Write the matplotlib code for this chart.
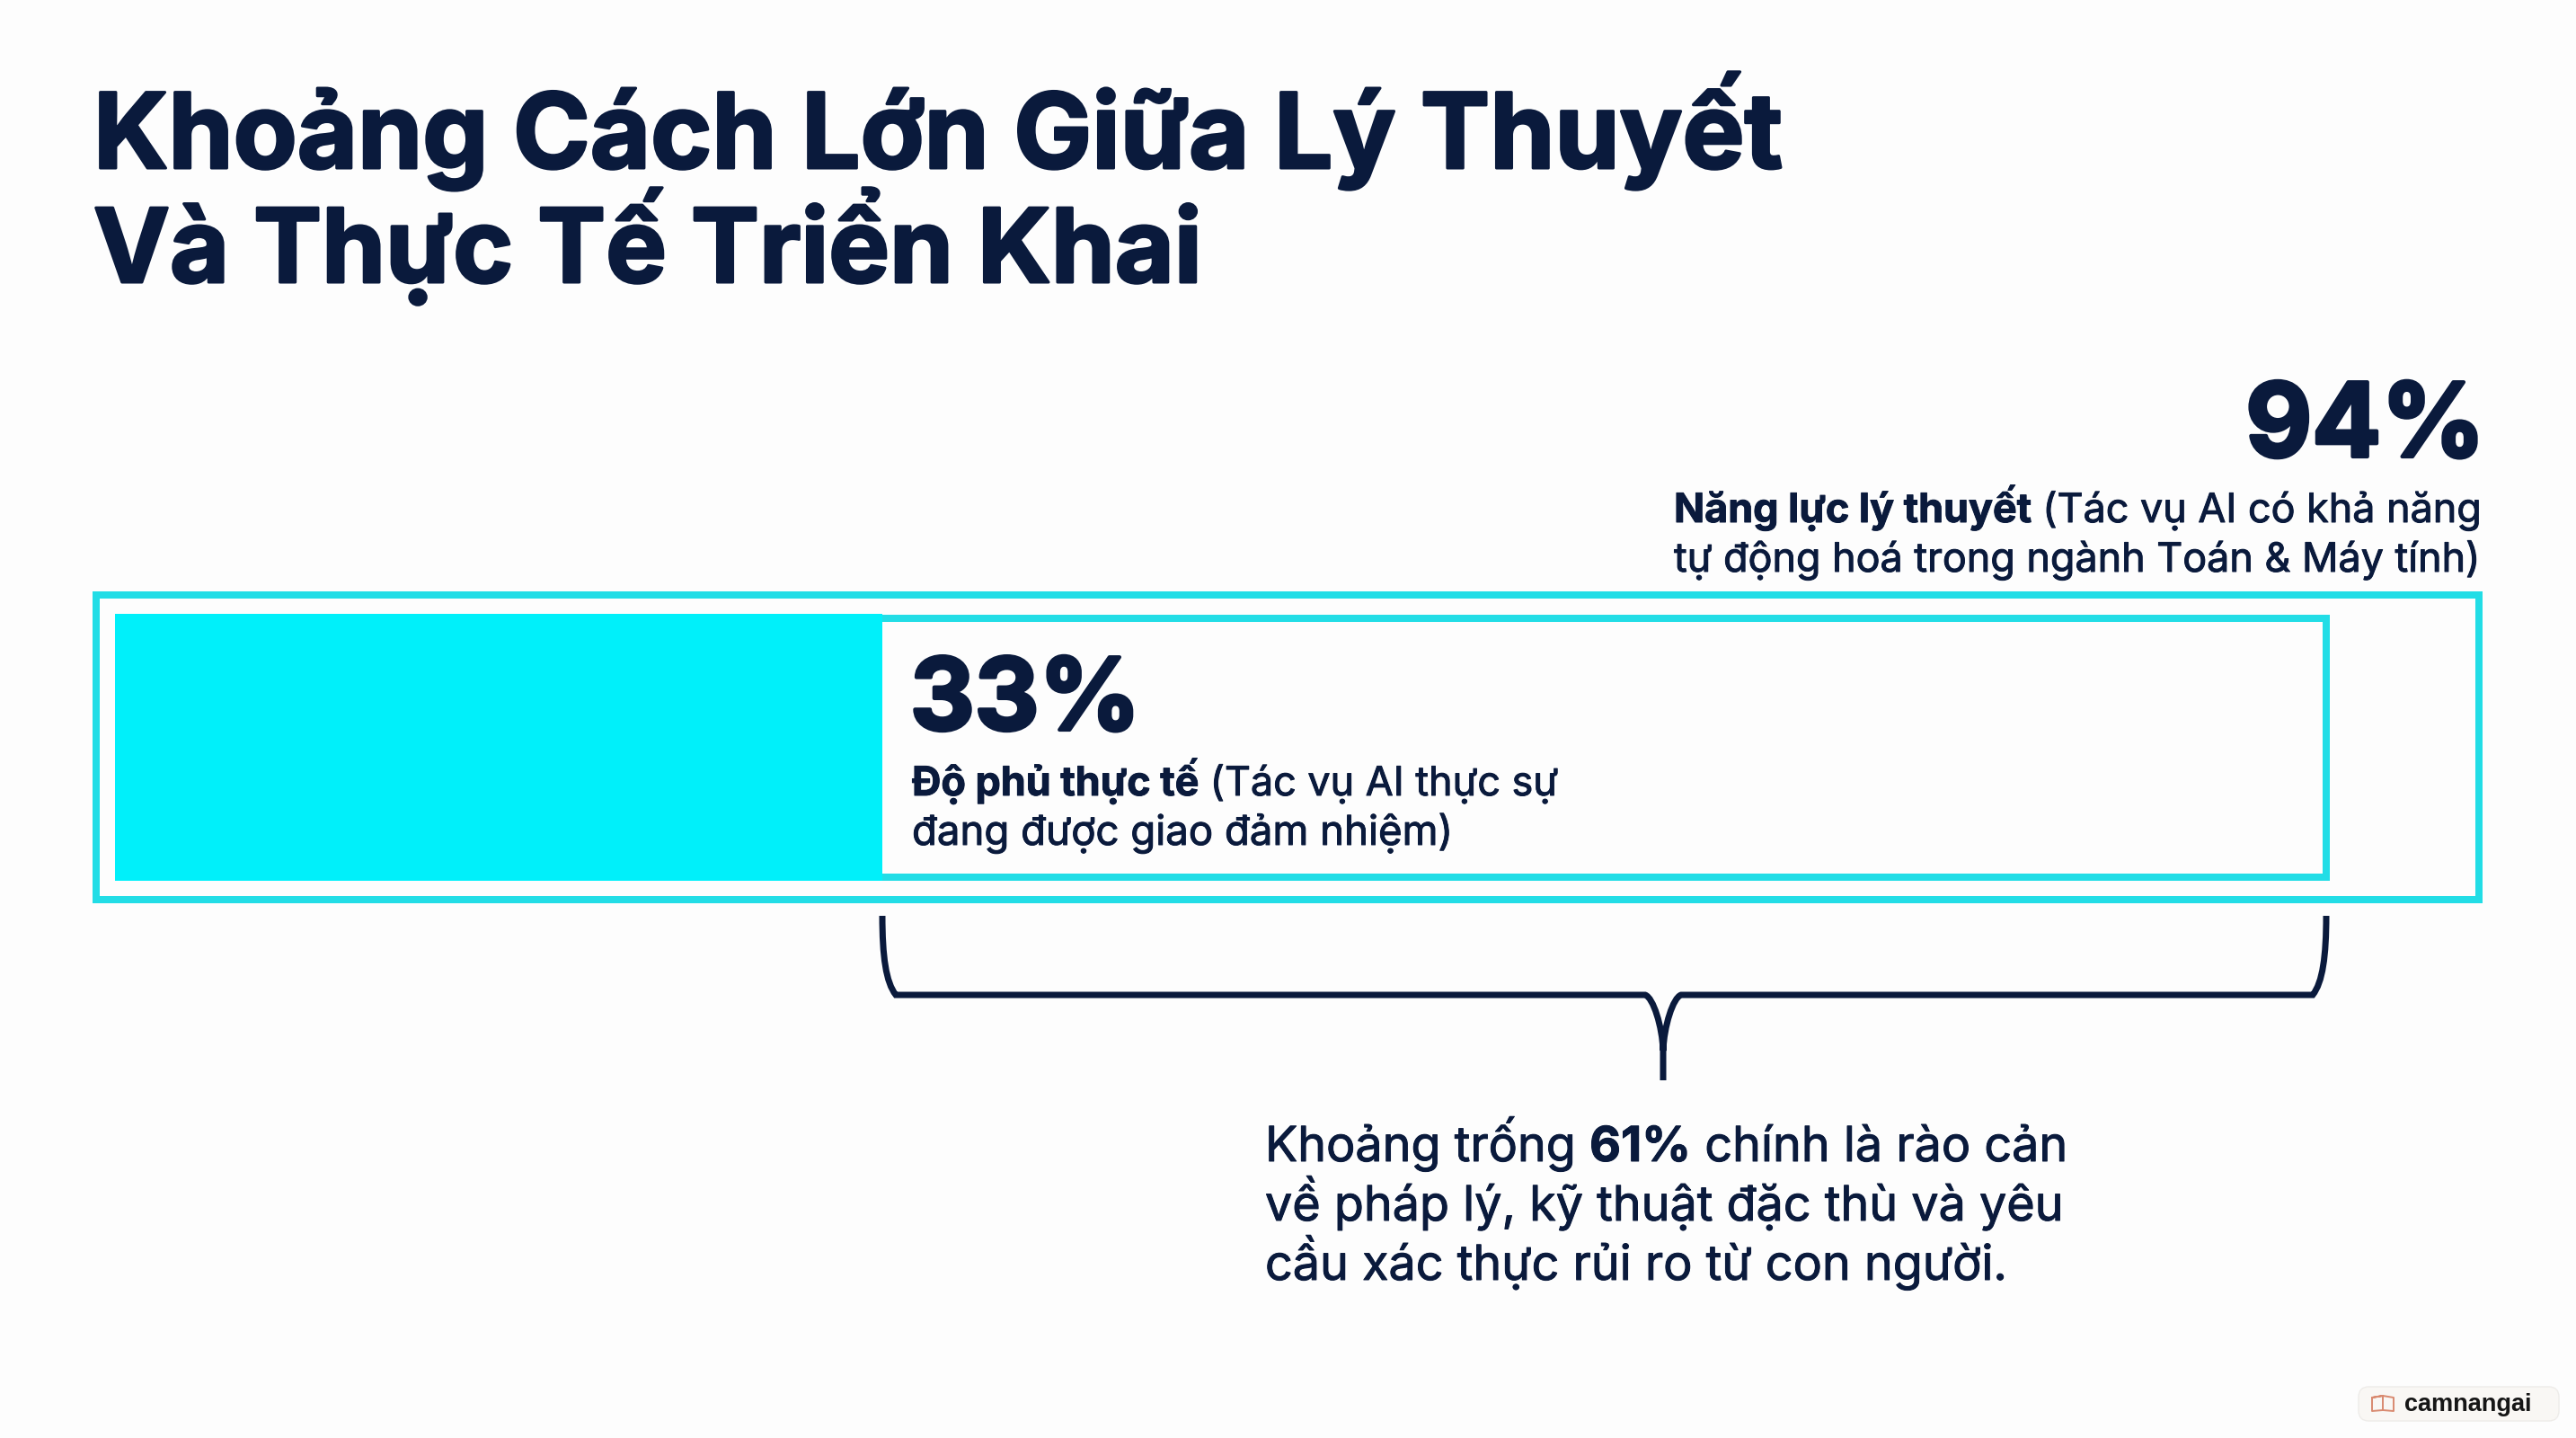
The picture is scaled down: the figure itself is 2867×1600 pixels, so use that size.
import matplotlib
matplotlib.use('Agg')
import matplotlib.pyplot as plt
import matplotlib.patheffects as pe
from matplotlib.patches import PathPatch, FancyBboxPatch
from matplotlib.path import Path

W, H = 2867, 1600
NAVY = '#0A1A3C'
CYAN = '#00F0FA'
EDGE = '#22DDE6'
FONT = 'Inter'

# values in percent
actual = 33
theory = 94
gap = theory - actual
title_lines = ['Khoảng Cách Lớn Giữa Lý Thuyết', 'Và Thực Tế Triển Khai']
theory_text = [[('Năng lực lý thuyết', 'bold'), (' (Tác vụ AI có khả năng', 'normal')],
               [('tự động hoá trong ngành Toán & Máy tính)', 'normal')]]
actual_text = [[('Độ phủ thực tế', 'bold'), (' (Tác vụ AI thực sự', 'normal')],
               [('đang được giao đảm nhiệm)', 'normal')]]
gap_text = [[('Khoảng trống ', 'normal'), (f'{gap}%', 'bold'), (' chính là rào cản', 'normal')],
            [('về pháp lý, kỹ thuật đặc thù và yêu', 'normal')],
            [('cầu xác thực rủi ro từ con người.', 'normal')]]

fig = plt.figure(figsize=(W / 100, H / 100), dpi=100, facecolor='#FDFDFD')
ax = fig.add_axes([0, 0, 1, 1])
ax.set_facecolor('none')
k = (2589 - 982) / (theory - actual)  # pixels per percent
ax.set_xlim(actual - 982 / k, actual + (W - 982) / k)
ax.set_ylim(H, 0)  # y stays in pixels, the bar only has one row
ax.axis('off')


def pct(px):
    return actual + (px - 982) / k


def bar(left, right, top, bottom, **kw):
    ax.barh((top + bottom) / 2, right - left, height=bottom - top, left=left, **kw)


lw = 8 * 72 / 100
bar(pct(107.5), pct(2759), 662, 1001, color='none', edgecolor=EDGE, linewidth=lw)
bar(pct(132), theory, 688, 976, color='none', edgecolor=EDGE, linewidth=lw)
bar(pct(128), actual, 683, 980, color=CYAN, linewidth=0, zorder=3)

# brace under the gap
xa, xb = actual, theory
tip = pct(1851)
top, mid, low = 1019, 1107, 1202
d = 15 / k
verts = [(xa, top), (xa, top + 45), (xa + 4 / k, mid - 14), (xa + d, mid),
         (tip - 20 / k, mid), (tip - 11 / k, mid + 3), (tip - 1 / k, mid + 35), (tip, mid + 62), (tip, low),
         (tip, mid + 62), (tip + 1 / k, mid + 35), (tip + 11 / k, mid + 3), (tip + 20 / k, mid), (xb - d, mid),
         (xb - 4 / k, mid - 14), (xb, top + 45), (xb, top)]
codes = [Path.MOVETO, Path.CURVE4, Path.CURVE4, Path.CURVE4,
         Path.LINETO, Path.CURVE4, Path.CURVE4, Path.CURVE4, Path.LINETO,
         Path.MOVETO, Path.CURVE4, Path.CURVE4, Path.CURVE4, Path.LINETO,
         Path.CURVE4, Path.CURVE4, Path.CURVE4]
ax.add_patch(PathPatch(Path(verts, codes), fc='none', ec=NAVY, lw=7 * 72 / 100, capstyle='butt', zorder=4))


def txt(x, y, s, size, weight='normal', ha='left', color=NAVY, family=FONT, stroke=0.0):
    t = fig.text(x / W, 1 - y / H, s, fontsize=size, fontweight=weight, ha=ha, va='baseline',
                 color=color, family=family)
    if stroke:
        t.set_path_effects([pe.withStroke(linewidth=stroke, foreground=color)])
    return t


def runs(x, y, parts, size):
    # several weights on one line, placed one after the other
    r = fig.canvas.get_renderer()
    cx = x
    for s, w in parts:
        t = txt(cx, y, s, size, w, stroke=0.7)
        cx += t.get_window_extent(r).width


# title
txt(104, 187, title_lines[0], 83.5, 'bold', stroke=2.2)
txt(104, 314, title_lines[1], 82, 'bold', stroke=2.2)

# big numbers
txt(2766, 508, f'{theory}%', 82, 'bold', ha='right', stroke=3)
txt(1013, 812, f'{actual}%', 80, 'bold', stroke=3)

for i, line in enumerate(theory_text):
    runs(1863, 581 + i * 55, line, 32.3)
runs(1015, 885, actual_text[0], 32.3)
runs(1015, 940, actual_text[1], 32.8)
for i, line in enumerate(gap_text):
    runs(1408, 1292 + i * 66, line, 38.8)

# watermark
fig.patches.append(FancyBboxPatch((2633 / W, 1 - 1573 / H), 207 / W, 22 / H,
                                  boxstyle='round,pad=0.0028,rounding_size=0.004', transform=fig.transFigure,
                                  fc='#F9F7F4', ec='#EEECE9', lw=1, mutation_aspect=W / H, figure=fig, zorder=-1))
txt(2676, 1570, 'camnangai', 19.5, 'bold', color='#161616', family='Liberation Sans')
book = [(2640, 1555), (2652, 1553), (2652, 1569), (2640, 1570), (2640, 1555), (2652, 1553),
        (2664, 1555), (2664, 1570), (2652, 1569)]
ax.plot([pct(a) for a, b in book], [b for a, b in book], color='#D98A70', lw=1.4)

fig.savefig('out.png', dpi=100, facecolor=fig.get_facecolor())
